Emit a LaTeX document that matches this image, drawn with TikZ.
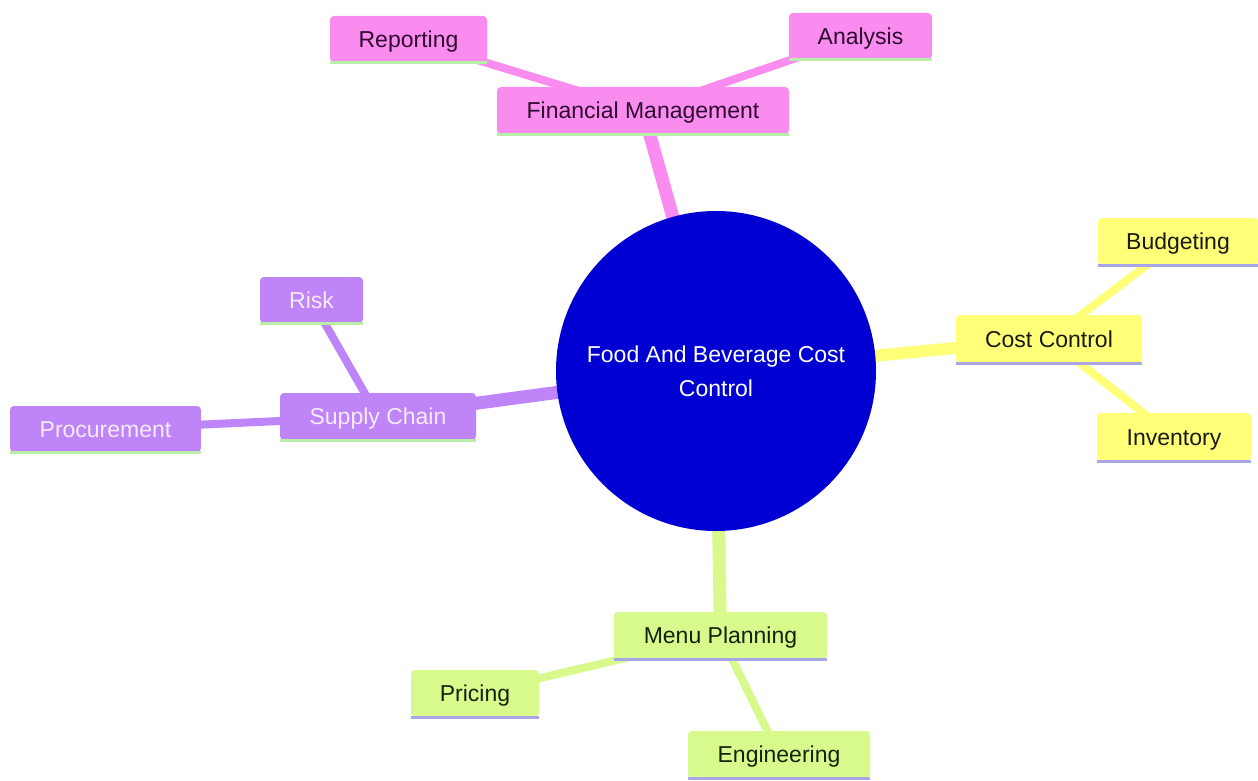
\documentclass[tikz,border=0pt]{standalone}
\usepackage{fontspec}
\setmainfont{Liberation Sans}
\pgfdeclarelayer{bgzero}
\pgfdeclarelayer{edges}
\pgfsetlayers{bgzero,edges,main}
\definecolor{pinkf}{HTML}{F98CEE}
\definecolor{yelf}{HTML}{FFFF78}
\definecolor{purf}{HTML}{BF84F7}
\definecolor{limf}{HTML}{D8F98C}
\definecolor{bluec}{HTML}{0000D2}
\definecolor{greenul}{HTML}{B8EFA8}
\definecolor{lavul}{HTML}{A8A6E6}
\definecolor{pinktx}{HTML}{2E0A30}
\definecolor{purtx}{HTML}{F6ECFF}
\definecolor{yeltx}{HTML}{1A1A10}
\definecolor{limtx}{HTML}{16220C}
\tikzset{
  base/.style={rectangle, rounded corners=4pt, inner sep=0pt, text height=16.5pt, text depth=0pt,
               font=\fontsize{23}{28}\selectfont},
  pinkbox/.style={base, fill=pinkf, text=pinktx},
  yelbox/.style={base, fill=yelf, text=yeltx},
  purbox/.style={base, fill=purf, text=purtx},
  limbox/.style={base, fill=limf, text=limtx},
  ulg/.style={draw=greenul, line width=3pt},
  ull/.style={draw=lavul, line width=3pt},
  e1/.style={line width=13pt},
  e2/.style={line width=8pt},
}
\begin{document}
\begin{tikzpicture}[x=1pt,y=-1pt]
\useasboundingbox (0,0) rectangle (1258,781);
\begin{pgfonlayer}{bgzero}
\fill[white] (0,0) rectangle (1258,781);
\end{pgfonlayer}

% center
\node[circle, fill=bluec, minimum size=320pt, inner sep=0pt, text=white, align=center,
      font=\fontsize{23}{34}\selectfont] (root) at (716,371) {Food And Beverage Cost\\Control};

% Financial Management
\node[pinkbox, minimum width=292pt, minimum height=47pt] (fm) at (643,110.5) {Financial Management};
\node[pinkbox, minimum width=157pt, minimum height=46pt] (rep) at (408.5,39) {Reporting};
\node[pinkbox, minimum width=143pt, minimum height=46pt] (ana) at (860.5,36) {Analysis};
\draw[ulg] (fm.south west) -- (fm.south east);
\draw[ulg] (rep.south west) -- (rep.south east);
\draw[ulg] (ana.south west) -- (ana.south east);

% Cost Control
\node[yelbox, minimum width=186pt, minimum height=48pt] (cc) at (1049,339) {Cost Control};
\node[yelbox, minimum width=160pt, minimum height=47pt] (bud) at (1178,241.5) {Budgeting};
\node[yelbox, minimum width=154pt, minimum height=48pt] (inv) at (1174,437) {Inventory};
\draw[ull] (cc.south west) -- (cc.south east);
\draw[ull] (bud.south west) -- (bud.south east);
\draw[ull] (inv.south west) -- (inv.south east);

% Supply Chain
\node[purbox, minimum width=196pt, minimum height=47pt] (sc) at (378,416.5) {Supply Chain};
\node[purbox, minimum width=103pt, minimum height=46pt] (risk) at (311.5,300) {Risk};
\node[purbox, minimum width=191pt, minimum height=46pt] (proc) at (105.5,429) {Procurement};
\draw[ulg] (sc.south west) -- (sc.south east);
\draw[ulg] (risk.south west) -- (risk.south east);
\draw[ulg] (proc.south west) -- (proc.south east);

% Menu Planning
\node[limbox, minimum width=213pt, minimum height=47pt] (mp) at (720.5,635.5) {Menu Planning};
\node[limbox, minimum width=128pt, minimum height=47pt] (pri) at (475,693.5) {Pricing};
\node[limbox, minimum width=182pt, minimum height=47pt] (eng) at (779,754.5) {Engineering};
\draw[ull] (mp.south west) -- (mp.south east);
\draw[ull] (pri.south west) -- (pri.south east);
\draw[ull] (eng.south west) -- (eng.south east);

\begin{pgfonlayer}{edges}
  \draw[e1, pinkf] (root.center) -- (fm.center);
  \draw[e2, pinkf] (fm.center) -- (rep.center);
  \draw[e2, pinkf] (fm.center) -- (ana.center);
  \draw[e1, yelf, line width=12pt] (root.center) -- (cc.center);
  \draw[e2, yelf] (cc.center) -- (bud.center);
  \draw[e2, yelf] (cc.center) -- (inv.center);
  \draw[e1, purf] (root.center) -- (sc.center);
  \draw[e2, purf] (sc.center) -- (risk.center);
  \draw[e2, purf] (sc.center) -- (proc.center);
  \draw[e1, limf] (root.center) -- (mp.center);
  \draw[e2, limf] (mp.center) -- (pri.center);
  \draw[e2, limf] (mp.center) -- (eng.center);
\end{pgfonlayer}
\end{tikzpicture}
\end{document}
